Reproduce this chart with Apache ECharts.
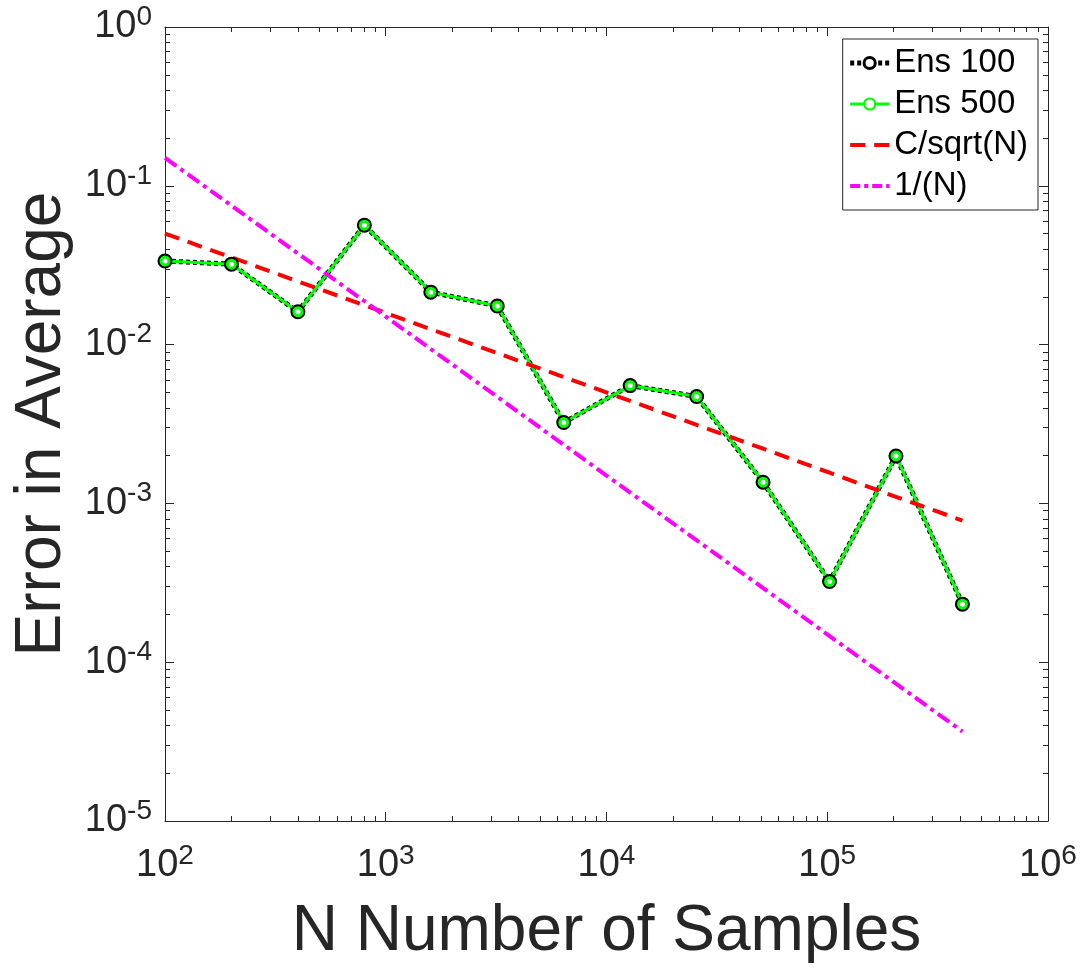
<!DOCTYPE html>
<html><head><meta charset="utf-8">
<script src="https://cdn.jsdelivr.net/npm/echarts@6/dist/echarts.min.js"></script>
<style>html,body{margin:0;padding:0;background:#fff}#c{width:1084px;height:969px}</style>
</head><body><div id="c"></div>
<script>
const samplesN = [100, 200, 400, 800, 1600, 3200, 6400, 12800, 25600, 51200, 102400, 204800, 409600];
const ens100 = [0.0336, 0.0321, 0.0161, 0.0565, 0.0214, 0.0175, 0.00323, 0.00552, 0.00471, 0.00136, 0.000322, 0.00199, 0.000232];
const ens500 = [0.0336, 0.0321, 0.0161, 0.0565, 0.0214, 0.0175, 0.00323, 0.00552, 0.00471, 0.00136, 0.000322, 0.00199, 0.000232];
const cSqrtN = [0.05, 0.0354, 0.025, 0.0177, 0.0125, 0.00884, 0.00625, 0.00442, 0.003125, 0.00221, 0.00156, 0.0011, 0.00078];
const invN = [0.15, 0.075, 0.0375, 0.01875, 0.009375, 0.0046875, 0.00234, 0.00117, 0.000586, 0.000293, 0.000146, 0.0000732, 0.0000366];
const seriesNames = ['Ens 100', 'Ens 500', 'C/sqrt(N)', '1/(N)'];
const xAxisTitle = 'N Number of Samples';
const yAxisTitle = 'Error in Average';

const TXT = '#262626';
const FONT = 'Liberation Sans, Arial, sans-serif';
const pairs = arr => samplesN.map((n, i) => [n, arr[i]]);
const expLabel = v => {
  const e = Math.round(Math.log10(v));
  return '{b|10}{s|' + e + '}';
};
const richLab = {
  b: {fontSize: 38, lineHeight: 48, fontFamily: FONT, color: TXT},
  s: {fontSize: 28, lineHeight: 20, verticalAlign: 'top', fontFamily: FONT, color: TXT}
};
const axisCommon = {
  type: 'log', logBase: 10,
  axisLine: {show: true, lineStyle: {color: TXT, width: 1}},
  axisTick: {show: true, inside: true, length: 9, lineStyle: {color: TXT}},
  minorTick: {show: true, splitNumber: 9, length: 5, lineStyle: {color: TXT}},
  splitLine: {show: false},
  minorSplitLine: {show: false}
};
const chart = echarts.init(document.getElementById('c'), null, {renderer: 'canvas'});
chart.setOption({
  backgroundColor: '#fff',
  animation: false,
  grid: {left: 165, right: 36, top: 27, bottom: 145},
  legend: {
    right: 46, top: 39, orient: 'vertical',
    backgroundColor: '#fff', borderColor: TXT, borderWidth: 1, borderRadius: 0,
    padding: [6, 10, 6, 5], itemGap: 5, itemWidth: 39, itemHeight: 14,
    textStyle: {fontSize: 33, lineHeight: 36, fontFamily: FONT, color: '#000'},
    data: [
      {name: seriesNames[0], itemStyle: {color: '#fff', borderColor: '#000', borderWidth: 3}, lineStyle: {width: 5, type: [4, 3]}},
      {name: seriesNames[1], lineStyle: {width: 3, type: 'solid'}},
      {name: seriesNames[2], itemStyle: {opacity: 0}, lineStyle: {width: 4, type: [15, 9]}},
      {name: seriesNames[3], itemStyle: {opacity: 0}, lineStyle: {width: 4, type: [10, 4, 4, 4]}}
    ]
  },
  xAxis: [
    Object.assign({}, axisCommon, {
      position: 'bottom', min: 100, max: 1000000,
      name: xAxisTitle, nameLocation: 'middle', nameGap: 79,
      nameTextStyle: {fontSize: 64, fontFamily: FONT, color: TXT},
      axisLabel: {margin: 21, formatter: expLabel, rich: richLab}
    }),
    Object.assign({}, axisCommon, {
      position: 'top', min: 100, max: 1000000, axisLabel: {show: false}
    })
  ],
  yAxis: [
    Object.assign({}, axisCommon, {
      position: 'left', min: 0.00001, max: 1,
      name: yAxisTitle, nameLocation: 'middle', nameGap: 88,
      nameTextStyle: {fontSize: 64, fontFamily: FONT, color: TXT},
      axisLabel: {margin: 13, formatter: expLabel, rich: richLab}
    }),
    Object.assign({}, axisCommon, {
      position: 'right', min: 0.00001, max: 1, axisLabel: {show: false}
    })
  ],
  series: [
    {
      name: seriesNames[0], type: 'line', data: pairs(ens100),
      symbol: 'circle', symbolSize: 13,
      lineStyle: {color: '#000', width: 5, type: [4, 3]},
      itemStyle: {color: '#00ff00', borderColor: '#000', borderWidth: 2}
    },
    {
      name: seriesNames[1], type: 'line', data: pairs(ens500),
      symbol: 'emptyCircle', symbolSize: 7,
      lineStyle: {color: '#00ff00', width: 3},
      itemStyle: {color: '#00ff00', borderColor: '#00ff00', borderWidth: 2}
    },
    {
      name: seriesNames[2], type: 'line', data: pairs(cSqrtN), symbol: 'none',
      lineStyle: {color: '#ff0000', width: 4, type: [15, 9]},
      itemStyle: {color: '#ff0000'}
    },
    {
      name: seriesNames[3], type: 'line', data: pairs(invN), symbol: 'none',
      lineStyle: {color: '#ff00ff', width: 4, type: [14, 5, 4, 5]},
      itemStyle: {color: '#ff00ff'}
    }
  ]
});
</script></body></html>
